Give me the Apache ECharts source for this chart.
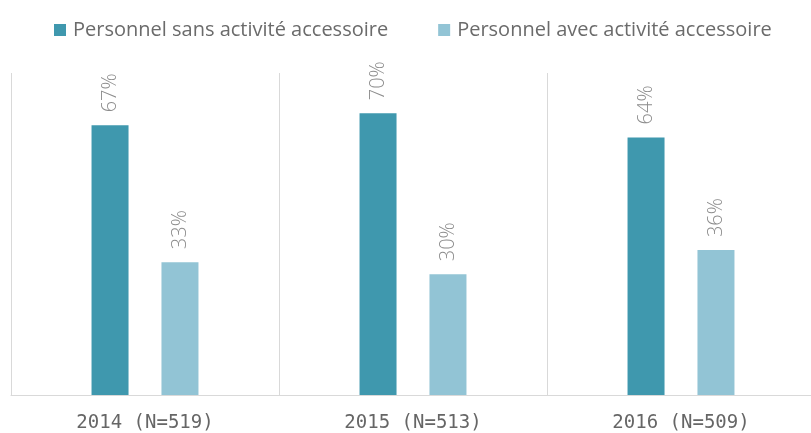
<!DOCTYPE html>
<html><head><meta charset="utf-8">
<script src="https://cdn.jsdelivr.net/npm/echarts@6/dist/echarts.min.js"></script>
<style>html,body{margin:0;padding:0;background:#fff;overflow:hidden}#c{width:816px;height:433px}</style>
</head><body><div id="c"></div>
<script>
const categories = ['2014 (N=519)', '2015 (N=513)', '2016 (N=509)'];
const seriesNames = ['Personnel sans activité accessoire', 'Personnel avec activité accessoire'];
const sansValues = [67, 70, 64];
const avecValues = [33, 30, 36];

const chart = echarts.init(document.getElementById('c'));
const lbl = {
  show: true, position: 'top', rotate: 90, align: 'left', verticalAlign: 'middle',
  distance: 13, formatter: '{c}%', color: '#8c8c8c', fontSize: 20,
  fontFamily: 'Open Sans', fontWeight: 300
};
chart.setOption({
  animation: false,
  legend: {
    top: 15, left: 49, itemGap: 50, itemWidth: 12, itemHeight: 12,
    icon: 'rect',
    textStyle: { color: '#6b6b6b', fontSize: 20, fontFamily: 'Open Sans', padding: [0, 0, 0, 2] },
    data: seriesNames
  },
  grid: { left: 11, right: 1, top: 73, bottom: 36.5, containLabel: false },
  xAxis: {
    type: 'category', data: categories,
    axisLine: { lineStyle: { color: '#d9d9d9' } },
    axisTick: { show: false },
    splitLine: { show: true, lineStyle: { color: '#d9d9d9' } },
    axisLabel: { color: '#666666', fontSize: 19, fontFamily: 'DejaVu Sans Mono', margin: 19, interval: 0 }
  },
  yAxis: { type: 'value', min: 0, max: 80, show: false, splitLine: { show: false } },
  series: [
    { name: seriesNames[0], type: 'bar', data: sansValues, barWidth: 37, barGap: '89%',
      itemStyle: { color: '#3f98ae' }, label: lbl },
    { name: seriesNames[1], type: 'bar', data: avecValues, barWidth: 37, barGap: '89%',
      itemStyle: { color: '#92c4d5' }, label: lbl }
  ]
});
</script></body></html>
